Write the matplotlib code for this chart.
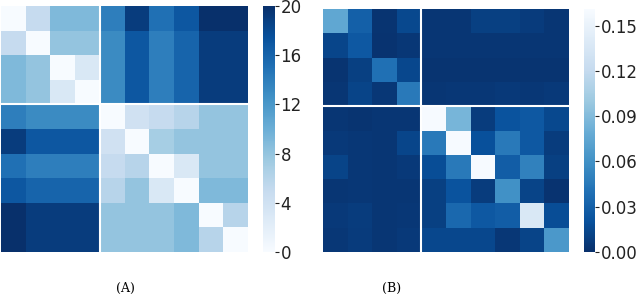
import numpy as np
import matplotlib
matplotlib.use("Agg")
import matplotlib.pyplot as plt
import seaborn as sns

# panel A: distance-like matrix (0 = white, 20 = dark)
dist = [
    [0, 5, 9, 9, 14, 19, 15, 17, 20, 20],
    [5, 0, 8, 8, 13, 17, 14, 16, 19, 19],
    [9, 8, 0, 3, 13, 17, 14, 16, 19, 19],
    [9, 8, 3, 0, 13, 17, 14, 16, 19, 19],
    [14, 13, 13, 13, 0, 4, 5, 6, 8, 8],
    [19, 17, 17, 17, 4, 0, 7, 8, 8, 8],
    [15, 14, 14, 14, 5, 6, 0, 3, 8, 8],
    [17, 16, 16, 16, 6, 8, 3, 0, 9, 9],
    [20, 19, 19, 19, 8, 8, 8, 9, 0, 6],
    [20, 19, 19, 19, 8, 8, 8, 9, 6, 0],
]

# panel B: weight-like matrix (0 = dark, 0.16 = white)
weights = [
    [0.075, 0.030, 0.003, 0.015, 0.004, 0.004, 0.010, 0.010, 0.007, 0.004],
    [0.013, 0.025, 0.002, 0.005, 0.004, 0.004, 0.004, 0.004, 0.004, 0.004],
    [0.003, 0.010, 0.040, 0.014, 0.003, 0.003, 0.003, 0.003, 0.003, 0.003],
    [0.004, 0.012, 0.005, 0.045, 0.004, 0.005, 0.005, 0.006, 0.005, 0.006],
    [0.004, 0.003, 0.004, 0.004, 0.160, 0.085, 0.008, 0.022, 0.025, 0.015],
    [0.006, 0.005, 0.004, 0.013, 0.045, 0.160, 0.020, 0.045, 0.025, 0.008],
    [0.012, 0.005, 0.004, 0.006, 0.018, 0.045, 0.160, 0.028, 0.050, 0.010],
    [0.004, 0.005, 0.004, 0.004, 0.010, 0.022, 0.008, 0.060, 0.012, 0.002],
    [0.006, 0.008, 0.004, 0.005, 0.010, 0.035, 0.025, 0.028, 0.137, 0.018],
    [0.005, 0.007, 0.004, 0.006, 0.014, 0.014, 0.014, 0.005, 0.012, 0.065],
]

split = 4
ticks_a = [0, 4, 8, 12, 16, 20]
ticks_b = [0.00, 0.03, 0.06, 0.09, 0.12, 0.15]

W, H = 640, 296
fig = plt.figure(figsize=(W / 100, H / 100), dpi=100)

def box(x0, y0, x1, y1):
    return [x0 / W, 1 - y1 / H, (x1 - x0) / W, (y1 - y0) / H]

axA = fig.add_axes(box(1, 6, 248, 252))
caxA = fig.add_axes(box(263, 6, 275, 252))
axB = fig.add_axes(box(323, 9, 569, 252))
caxB = fig.add_axes(box(584, 9, 595, 252))

sns.heatmap(np.array(dist), ax=axA, cbar_ax=caxA, cmap="Blues", vmin=0, vmax=20,
            xticklabels=False, yticklabels=False, cbar_kws={"ticks": ticks_a})
sns.heatmap(np.array(weights), ax=axB, cbar_ax=caxB, cmap="Blues_r", vmin=0, vmax=0.161,
            xticklabels=False, yticklabels=False, cbar_kws={"ticks": ticks_b})

for ax in (axA, axB):
    ax.axhline(split, color="white", lw=1.5)
    ax.axvline(split, color="white", lw=1.5)

caxA.set_yticklabels([str(t) for t in ticks_a])
caxB.set_yticklabels(["%.2f" % t for t in ticks_b])
for cax in (caxA, caxB):
    cax.tick_params(labelsize=12, length=3, width=0.8, colors="#222222", pad=1)

fig.text(125 / W, 1 - 288 / H, "(A)", ha="center", va="center",
         family="DejaVu Serif", fontsize=9)
fig.text(392 / W, 1 - 288 / H, "(B)", ha="center", va="center",
         family="DejaVu Serif", fontsize=9)

fig.savefig("out.png", dpi=100)
